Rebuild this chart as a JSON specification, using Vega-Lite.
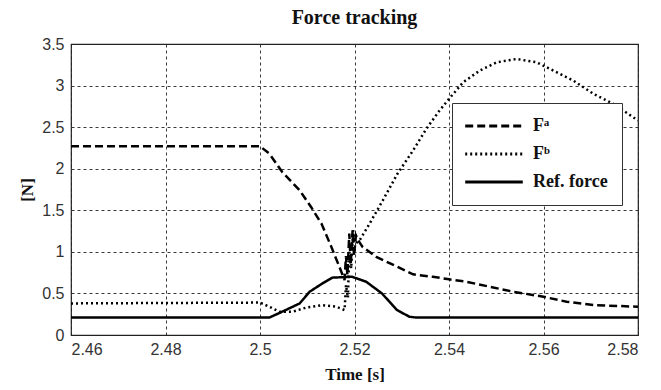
{
  "$schema": "https://vega.github.io/schema/vega-lite/v6.json",
  "width": 567,
  "height": 291,
  "autosize": {"type": "none"},
  "padding": {"left": 71, "top": 44, "right": 23, "bottom": 55},
  "background": "white",
  "title": {
    "text": "Force tracking",
    "font": "Liberation Serif",
    "fontSize": 20,
    "fontWeight": "bold",
    "color": "#111",
    "anchor": "middle",
    "offset": 8
  },
  "config": {
    "view": {"stroke": "#222", "strokeWidth": 1.2},
    "axis": {
      "grid": true,
      "gridColor": "#222",
      "gridDash": [3, 3],
      "gridWidth": 0.9,
      "domain": false,
      "ticks": false,
      "labelFont": "Liberation Sans",
      "labelFontSize": 16,
      "labelColor": "#333",
      "titleFont": "Liberation Serif",
      "titleFontSize": 17,
      "titleFontWeight": "bold",
      "titleColor": "#111"
    }
  },
  "data": {
    "values": [
      {"t": 2.46, "v": 2.27, "s": "Fᵃ"},
      {"t": 2.5, "v": 2.27, "s": "Fᵃ"},
      {"t": 2.502, "v": 2.18, "s": "Fᵃ"},
      {"t": 2.5047, "v": 1.96, "s": "Fᵃ"},
      {"t": 2.5084, "v": 1.74, "s": "Fᵃ"},
      {"t": 2.5108, "v": 1.54, "s": "Fᵃ"},
      {"t": 2.513, "v": 1.34, "s": "Fᵃ"},
      {"t": 2.5151, "v": 1.06, "s": "Fᵃ"},
      {"t": 2.5168, "v": 0.82, "s": "Fᵃ"},
      {"t": 2.5179, "v": 0.66, "s": "Fᵃ"},
      {"t": 2.5182, "v": 0.95, "s": "Fᵃ"},
      {"t": 2.5185, "v": 0.72, "s": "Fᵃ"},
      {"t": 2.5189, "v": 1.22, "s": "Fᵃ"},
      {"t": 2.5192, "v": 0.85, "s": "Fᵃ"},
      {"t": 2.5196, "v": 1.26, "s": "Fᵃ"},
      {"t": 2.5199, "v": 0.95, "s": "Fᵃ"},
      {"t": 2.5203, "v": 1.2, "s": "Fᵃ"},
      {"t": 2.521, "v": 1.12, "s": "Fᵃ"},
      {"t": 2.5217, "v": 1.06, "s": "Fᵃ"},
      {"t": 2.5246, "v": 0.94, "s": "Fᵃ"},
      {"t": 2.5291, "v": 0.82, "s": "Fᵃ"},
      {"t": 2.5324, "v": 0.73, "s": "Fᵃ"},
      {"t": 2.5366, "v": 0.7, "s": "Fᵃ"},
      {"t": 2.54, "v": 0.67, "s": "Fᵃ"},
      {"t": 2.5437, "v": 0.64, "s": "Fᵃ"},
      {"t": 2.5487, "v": 0.58, "s": "Fᵃ"},
      {"t": 2.5536, "v": 0.52, "s": "Fᵃ"},
      {"t": 2.56, "v": 0.46, "s": "Fᵃ"},
      {"t": 2.5649, "v": 0.4, "s": "Fᵃ"},
      {"t": 2.5706, "v": 0.36, "s": "Fᵃ"},
      {"t": 2.58, "v": 0.34, "s": "Fᵃ"},

      {"t": 2.46, "v": 0.38, "s": "Fᵇ"},
      {"t": 2.5, "v": 0.39, "s": "Fᵇ"},
      {"t": 2.502, "v": 0.34, "s": "Fᵇ"},
      {"t": 2.5041, "v": 0.28, "s": "Fᵇ"},
      {"t": 2.5069, "v": 0.28, "s": "Fᵇ"},
      {"t": 2.5098, "v": 0.33, "s": "Fᵇ"},
      {"t": 2.5132, "v": 0.36, "s": "Fᵇ"},
      {"t": 2.5161, "v": 0.34, "s": "Fᵇ"},
      {"t": 2.5179, "v": 0.3, "s": "Fᵇ"},
      {"t": 2.5182, "v": 0.6, "s": "Fᵇ"},
      {"t": 2.5186, "v": 0.45, "s": "Fᵇ"},
      {"t": 2.5189, "v": 1.0, "s": "Fᵇ"},
      {"t": 2.5193, "v": 0.8, "s": "Fᵇ"},
      {"t": 2.5197, "v": 1.26, "s": "Fᵇ"},
      {"t": 2.5202, "v": 1.1, "s": "Fᵇ"},
      {"t": 2.5211, "v": 1.14, "s": "Fᵇ"},
      {"t": 2.5232, "v": 1.34, "s": "Fᵇ"},
      {"t": 2.526, "v": 1.62, "s": "Fᵇ"},
      {"t": 2.5291, "v": 1.94, "s": "Fᵇ"},
      {"t": 2.5324, "v": 2.22, "s": "Fᵇ"},
      {"t": 2.5352, "v": 2.48, "s": "Fᵇ"},
      {"t": 2.538, "v": 2.7, "s": "Fᵇ"},
      {"t": 2.54, "v": 2.84, "s": "Fᵇ"},
      {"t": 2.543, "v": 3.04, "s": "Fᵇ"},
      {"t": 2.5465, "v": 3.18, "s": "Fᵇ"},
      {"t": 2.5501, "v": 3.28, "s": "Fᵇ"},
      {"t": 2.5543, "v": 3.32, "s": "Fᵇ"},
      {"t": 2.5585, "v": 3.28, "s": "Fᵇ"},
      {"t": 2.5621, "v": 3.18, "s": "Fᵇ"},
      {"t": 2.5663, "v": 3.06, "s": "Fᵇ"},
      {"t": 2.5706, "v": 2.9, "s": "Fᵇ"},
      {"t": 2.5748, "v": 2.78, "s": "Fᵇ"},
      {"t": 2.58, "v": 2.58, "s": "Fᵇ"},

      {"t": 2.46, "v": 0.21, "s": "Ref. force"},
      {"t": 2.502, "v": 0.21, "s": "Ref. force"},
      {"t": 2.5047, "v": 0.28, "s": "Ref. force"},
      {"t": 2.5084, "v": 0.38, "s": "Ref. force"},
      {"t": 2.5105, "v": 0.52, "s": "Ref. force"},
      {"t": 2.5132, "v": 0.62, "s": "Ref. force"},
      {"t": 2.5153, "v": 0.69, "s": "Ref. force"},
      {"t": 2.5195, "v": 0.7, "s": "Ref. force"},
      {"t": 2.5225, "v": 0.64, "s": "Ref. force"},
      {"t": 2.5258, "v": 0.5, "s": "Ref. force"},
      {"t": 2.529, "v": 0.3, "s": "Ref. force"},
      {"t": 2.5316, "v": 0.22, "s": "Ref. force"},
      {"t": 2.533, "v": 0.21, "s": "Ref. force"},
      {"t": 2.58, "v": 0.21, "s": "Ref. force"}
    ]
  },
  "mark": {"type": "line", "color": "#000", "strokeWidth": 2.5, "clip": true},
  "encoding": {
    "x": {
      "field": "t",
      "type": "quantitative",
      "scale": {"domain": [2.46, 2.58], "nice": false, "zero": false},
      "axis": {
        "values": [2.46, 2.48, 2.5, 2.52, 2.54, 2.56, 2.58],
        "format": "~g",
        "title": "Time [s]",
        "labelPadding": 6,
        "titlePadding": 9
      }
    },
    "y": {
      "field": "v",
      "type": "quantitative",
      "scale": {"domain": [0, 3.5], "nice": false},
      "axis": {
        "values": [0, 0.5, 1, 1.5, 2, 2.5, 3, 3.5],
        "format": "~g",
        "title": "[N]",
        "labelPadding": 7,
        "titlePadding": 5
      }
    },
    "strokeDash": {
      "field": "s",
      "type": "nominal",
      "scale": {
        "domain": ["Fᵃ", "Fᵇ", "Ref. force"],
        "range": [[8, 4], [2, 3], [1, 0]]
      },
      "legend": {
        "title": null,
        "orient": "none",
        "legendX": 381,
        "legendY": 59,
        "fillColor": "white",
        "strokeColor": "#333",
        "padding": 14,
        "symbolType": "M-4.8,0H4.8",
        "symbolSize": 144,
        "symbolOffset": 19,
        "symbolStrokeWidth": 3,
        "symbolStrokeColor": "#000",
        "symbolFillColor": "transparent",
        "labelFont": "Liberation Serif",
        "labelFontWeight": "bold",
        "labelFontSize": 18,
        "labelColor": "#111",
        "labelOffset": 30,
        "rowPadding": 10
      }
    }
  }
}
